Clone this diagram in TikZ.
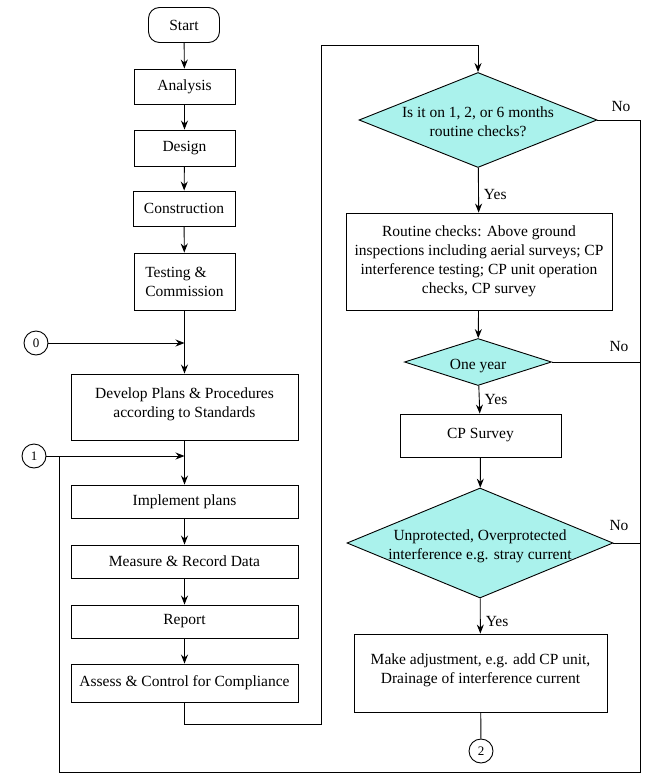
\documentclass[tikz,border=0pt]{standalone}
\usepackage{fontspec}
\setmainfont{Liberation Serif}
\usepackage{tikz}
\usetikzlibrary{shapes.geometric}
\usetikzlibrary{arrows.meta}
\definecolor{decfill}{RGB}{170,242,236}
% text of a decision, kept out of the size of the diamond
\newcommand{\dectext}[1]{\makebox[0pt]{\smash{\raisebox{-7pt}{\begin{tabular}{@{}c@{}}#1\end{tabular}}}}}
\begin{document}
\begin{tikzpicture}[x=1pt,y=-1pt,
    font=\fontsize{15.5}{19}\selectfont,
    every path/.style={line width=0.9pt},
    stepbox/.style={draw, rectangle, align=center, inner sep=2pt},
    decbox/.style={draw, diamond, fill=decfill, inner sep=0pt},
    conn/.style={draw, circle, minimum size=24pt, inner sep=0pt, font=\fontsize{13}{15}\selectfont},
    arr/.style={-{Stealth[length=9pt,width=7pt,inset=3pt]}},
    lbl/.style={inner sep=1pt}]
        \useasboundingbox (0,0) rectangle (656,781);
        % Left column
        \node[stepbox, rounded corners=11pt, minimum width=71pt, minimum height=35pt] (start) at (184, 25) {Start};
        \node[stepbox, minimum width=101pt, minimum height=35pt] (analysis) at (184.5, 86.5) {Analysis};
        \node[stepbox, minimum width=101pt, minimum height=36pt] (design) at (184.5, 148) {Design};
        \node[stepbox, minimum width=102pt, minimum height=35pt] (constr) at (184, 208.5) {Construction};
        \node[stepbox, align=left, minimum width=101pt, minimum height=57pt] (testing) at (184.5, 281.5) {Testing \&\\Commission};
        \node[stepbox, minimum width=227pt, minimum height=66pt] (develop) at (184.5, 407) {Develop Plans \& Procedures\\according to Standards\\[-10pt]\mbox{}};
        \node[stepbox, minimum width=227pt, minimum height=33pt] (implement) at (184.5, 501.5) {Implement plans};
        \node[stepbox, minimum width=227pt, minimum height=33pt] (measure) at (184.5, 561.5) {Measure \& Record Data};
        \node[stepbox, minimum width=227pt, minimum height=33pt] (report) at (184.5, 621.5) {Report};
        \node[stepbox, minimum width=227pt, minimum height=38pt] (assess) at (184.5, 683) {Assess \& Control for Compliance};
        % Connectors
        \node[conn] (zero) at (36, 343) {0};
        \node[conn] (one) at (34, 456) {1};
        \node[conn] (two) at (481, 751) {2};
        % Right column
        \node[decbox, minimum width=238pt, minimum height=95pt] (routineq) at (478, 120) {\dectext{Is it on 1, 2, or 6 months\\routine checks?}};
        \node[stepbox, minimum width=266pt, minimum height=97pt] (routine) at (479, 261.5) {Routine checks: Above ground\\inspections including aerial surveys; CP\\interference testing; CP unit operation\\checks, CP survey};
        \node[decbox, minimum width=147pt, minimum height=47pt] (year) at (478, 362) {\dectext{One year}};
        \node[stepbox, minimum width=161pt, minimum height=43pt] (survey) at (480.5, 435.5) {CP Survey};
        \node[decbox, minimum width=266pt, minimum height=110pt] (protect) at (480, 543) {\dectext{Unprotected, Overprotected\\interference e.g. stray current}};
        \node[stepbox, minimum width=253pt, minimum height=78pt] (adjust) at (480.5, 673) {Make adjustment, e.g. add CP unit,\\Drainage of interference current\\[-10pt]\mbox{}};
        % Corner points of the loops
        \coordinate (looptop) at (321, 45);
        \coordinate (loopright) at (640, 772);
        \coordinate (loopleft) at (59, 772);
        %
        % Main flow
        \draw[arr] (start) -- (analysis);
        \draw[arr] (analysis) -- (design);
        \draw[arr] (design) -- (constr);
        \draw[arr] (constr) -- (testing);
        \draw[arr] (testing) -- (develop);
        \draw[arr] (develop) -- (implement);
        \draw[arr] (implement) -- (measure);
        \draw[arr] (measure) -- (report);
        \draw[arr] (report) -- (assess);
        \draw[arr] (zero) -- (zero -| develop.north);
        \draw[arr] (one) -- (one -| implement.north);
        \draw[arr] (assess.south) -- ++(0, 22) -| (looptop) -| (routineq.north);
        % Decisions
        \draw[arr] (routineq) -- node[lbl, right, xshift=4pt, pos=0.6] {Yes} (routine);
        \draw[arr] (routine) -- (year);
        \draw[arr] (year) -- node[lbl, right, xshift=4pt, pos=0.5] {Yes} (survey);
        \draw[arr] (survey) -- (protect);
        \draw[arr] (protect) -- node[lbl, right, xshift=4pt, pos=0.65] {Yes} (adjust);
        \draw (adjust) -- (two);
        % No branches back to 1
        \draw (routineq.east) -| (loopright) -- (loopleft) |- (one.east -| loopleft);
        \draw (year.east) -- (year.east -| loopright);
        \draw (protect.east) -- (protect.east -| loopright);
        \node[lbl] at (621, 107) {No};
        \node[lbl] at (619, 346) {No};
        \node[lbl] at (619, 525) {No};
\end{tikzpicture}
\end{document}
